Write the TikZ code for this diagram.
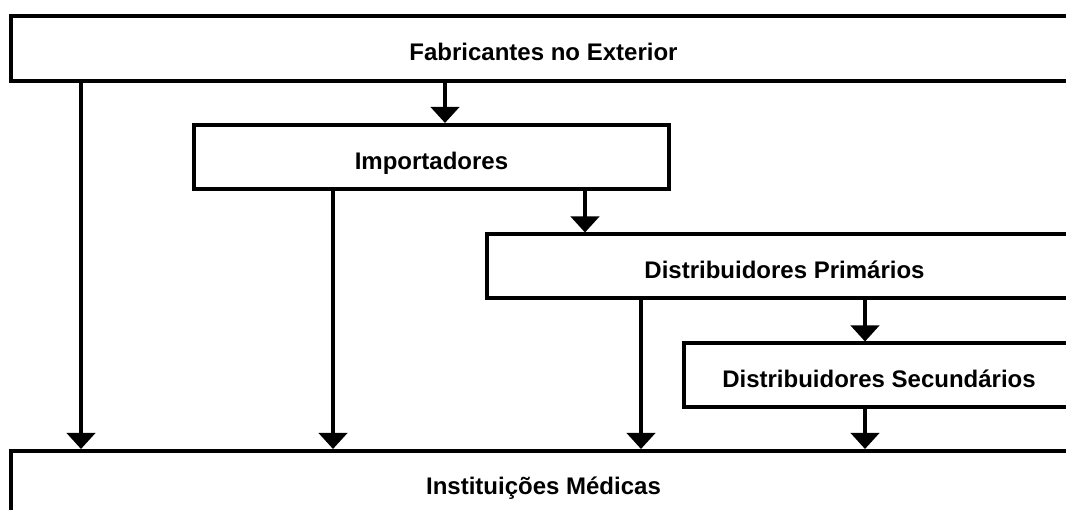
\documentclass[tikz,border=0pt]{standalone}
\usepackage{fontspec}
\setmainfont{Liberation Sans}
\usetikzlibrary{arrows.meta}
\begin{document}
\begin{tikzpicture}[x=1pt,y=-1pt,
  box/.style={draw=black, line width=4pt, fill=white, inner sep=0pt,
    text height=25pt, text depth=0pt,
    font=\fontsize{24}{28}\selectfont\bfseries},
  arr/.style={line width=4pt, -{Triangle[width=28pt,length=16pt]}},
  ln/.style={line width=4pt}]
\useasboundingbox (0,0) rectangle (1066,510);
\clip (0,0) rectangle (1066,510);
\node[box, minimum width=1065pt, minimum height=65pt] (fab) at (543.5,48.5) {Fabricantes no Exterior};
\node[box, minimum width=475pt, minimum height=64pt] (imp) at (431.5,157) {Importadores};
\node[box, minimum width=595pt, minimum height=63.5pt] (dp) at (784.5,266.25) {Distribuidores Primários};
\node[box, minimum width=390pt, minimum height=64pt] (ds) at (879,375.5) {Distribuidores Secundários};
\node[box, minimum width=1065pt, minimum height=62pt] (inst) at (543.5,482) {Instituições Médicas};
\coordinate (c1) at (81,0);
\coordinate (c2) at (445,0);
\coordinate (c3) at (333,0);
\coordinate (c4) at (585,0);
\coordinate (c5) at (641,0);
\coordinate (c6) at (865,0);
\draw[arr] (fab.south -| c1) -- (inst.north -| c1);
\draw[arr] (fab.south -| c2) -- (imp.north -| c2);
\draw[arr] (imp.south -| c3) -- (inst.north -| c3);
\draw[arr] (imp.south -| c4) -- (dp.north -| c4);
\draw[arr] (dp.south -| c5) -- (inst.north -| c5);
\draw[arr] (dp.south -| c6) -- (ds.north -| c6);
\draw[arr] (ds.south -| c6) -- (inst.north -| c6);
\end{tikzpicture}
\end{document}
